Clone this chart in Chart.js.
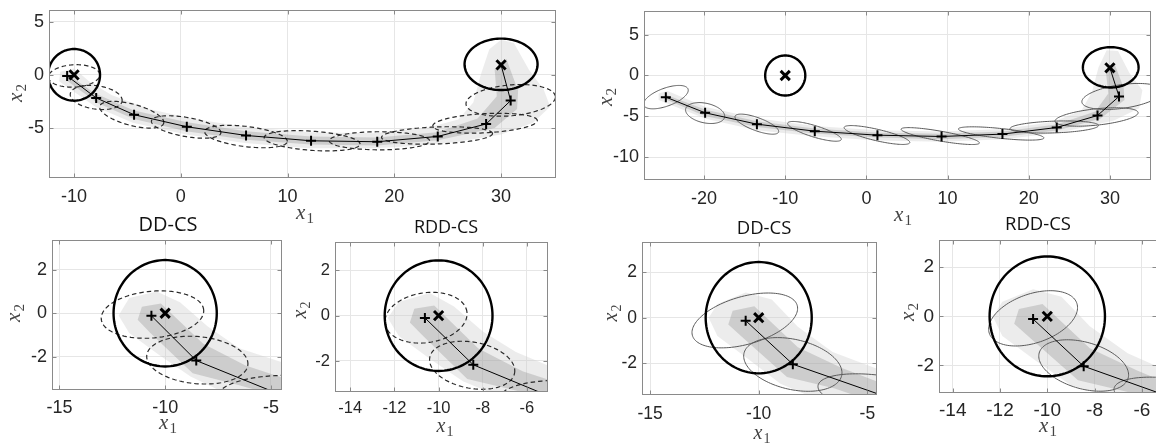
<!DOCTYPE html>
<html>
<head>
<meta charset="utf-8">
<script src="https://cdn.jsdelivr.net/npm/chart.js@4.4.1/dist/chart.umd.min.js"></script>
<style>
  html, body { margin: 0; padding: 0; background: #fff; }
  body { width: 1156px; height: 445px; overflow: hidden; position: relative; }
  canvas { position: absolute; }
</style>
</head>
<body>
<script>
// ---------- data ----------
// top-left: mean trajectory (+), targets (x), covariance ellipses, target circles
const tlMean = [[-10.65,-0.1],[-7.93,-2.17],[-4.38,-3.75],[0.56,-4.88],[6.11,-5.7],[12.2,-6.2],[18.4,-6.29],[24.07,-5.79],[28.6,-4.62],[30.9,-2.42]];
const tlTargets = [[-10,0],[30,0.94]];
// [cx, cy, semi-axis a, semi-axis b, angle deg]
const tlEllipses = [[-10,-0.1,2.4,1.05,3],[-7.93,-2.12,2.45,1.1,-8],[-4.6,-3.75,3.1,1.0,-15],[0.5,-4.9,3.3,0.9,-10],[6.1,-5.8,3.9,0.95,-7],[12.3,-6.2,4.5,0.9,-4],[18.6,-6.2,4.7,0.85,0],[24.0,-5.7,5.2,0.8,2],[28.5,-4.55,4.9,0.9,3],[30.9,-2.4,4.2,1.45,5]];
const tlCircles = [[-10,0,2.43,2.43],[30,0.99,3.42,2.42]];
const tlFanOuter = [[-11.3,0.3],[-10,0.6],[-8.6,-0.6],[-6.5,-1.9],[-3,-3.2],[1,-4.1],[6,-4.9],[12,-5.4],[18,-5.5],[23,-5.0],[26,-4.2],[27.4,-2.6],[28.1,0],[28.9,2.4],[30,3.3],[31.2,3.0],[32.6,0.5],[34,-1.4],[34.6,-3],[33,-4.5],[30,-5.6],[26,-6.3],[22,-6.7],[18,-6.9],[12,-6.9],[6,-6.4],[0.5,-5.6],[-4.5,-4.5],[-8,-3.0],[-10,-1.6],[-11.4,-0.6]];
const tlFanInner = [[-10.8,0.2],[-8.1,-1.7],[-4.4,-3.35],[0.6,-4.45],[6.1,-5.3],[12.2,-5.8],[18.4,-5.9],[24,-5.4],[27.8,-4.1],[29.6,-2.0],[29.4,0.5],[30.5,1.5],[31.6,-1.5],[31.5,-3.2],[29.4,-5.0],[24.1,-6.15],[18.4,-6.65],[12.2,-6.55],[6.1,-6.1],[0.5,-5.3],[-4.4,-4.15],[-7.8,-2.65],[-10.6,-0.6]];

// top-right
const trMean = [[-24.71,-2.65],[-19.87,-4.57],[-13.49,-5.96],[-6.36,-6.82],[1.36,-7.31],[9.26,-7.47],[16.76,-7.18],[23.45,-6.37],[28.47,-4.9],[31.12,-2.57]];
const trTargets = [[-10,0],[30,0.94]];
const trEllipses = [[-24.7,-2.65,2.9,1.1,20],[-19.87,-4.6,2.45,1.2,-12],[-13.5,-5.96,2.85,0.8,-20],[-6.4,-6.84,3.45,0.7,-17],[1.3,-7.29,4.15,0.7,-13],[9.1,-7.42,4.9,0.6,-10],[16.6,-7.1,5.3,0.6,-6],[23.15,-6.31,5.45,0.72,2],[28.35,-5.08,5.15,1.0,6],[31.5,-2.57,5.0,1.45,8]];
const trCircles = [[-10,0,2.47,2.45],[30.1,1.0,3.43,2.47]];
const trFanOuter = [[-25.6,-2.2],[-24.5,-1.9],[-19.8,-3.85],[-13.5,-5.25],[-6.4,-6.2],[1.4,-6.7],[9.3,-6.85],[16.8,-6.55],[23,-5.7],[26.5,-4.3],[27.8,-2.0],[28.6,1],[29.6,3.1],[31,3.0],[32.4,0.3],[34,-1.8],[33.6,-4.0],[30.5,-5.5],[24,-6.95],[17,-7.8],[9.3,-8.1],[1.4,-7.95],[-6.4,-7.45],[-13.5,-6.7],[-19.8,-5.3],[-24.6,-3.4],[-25.6,-3.0]];
const trFanInner = [[-24.7,-2.35],[-19.8,-4.2],[-13.5,-5.6],[-6.4,-6.5],[1.4,-7.0],[9.3,-7.15],[16.8,-6.85],[23.4,-6.0],[28.2,-4.4],[29.8,-2.2],[29.5,0.5],[30.5,1.6],[31.7,-1.5],[31.8,-3.0],[28.8,-5.3],[23.5,-6.75],[16.8,-7.5],[9.3,-7.8],[1.4,-7.6],[-6.4,-7.1],[-13.5,-6.3],[-19.9,-4.95],[-24.7,-2.95]];

// bottom zooms: DD-CS / RDD-CS, left scenario
const ddlMean = [[-10.65,-0.12],[-8.53,-2.17],[-4.38,-3.8]];
const ddlEllipses = [[-10.6,-0.06,2.43,1.07,5],[-8.48,-2.15,2.4,1.08,-5],[-4.3,-3.8,3.2,0.95,0]];
const rdlMean = [[-10.62,-0.1],[-8.43,-2.17],[-4.38,-3.8]];
const rdlEllipses = [[-10.57,-0.09,1.87,1.1,8],[-8.48,-2.19,1.95,1.02,-10],[-4.5,-3.6,2.7,0.75,0]];
const ddlFanOuter = [[-11.7,0.7],[-10.4,1.0],[-9.3,0.5],[-8,-0.6],[-6.5,-1.6],[-4.3,-2.3],[-4.3,-3.6],[-7.3,-3.6],[-8.8,-2.9],[-10.3,-1.9],[-11.7,-0.9],[-12.2,-0.1]];
const ddlFanInner = [[-11.1,0.3],[-10.2,0.45],[-8.2,-1.4],[-6.2,-2.4],[-4.3,-3.0],[-4.3,-3.9],[-6.5,-3.3],[-8.7,-2.75],[-10.7,-0.9],[-11.3,-0.3]];
const rdlFanOuter = [[-11.8,0.6],[-10.4,1.0],[-9.3,0.4],[-8,-0.7],[-6.5,-1.6],[-4.8,-2.3],[-4.8,-3.5],[-7.4,-3.5],[-8.9,-2.9],[-10.4,-1.9],[-11.8,-0.9],[-12.3,-0.1]];
const rdlFanInner = [[-11.1,0.3],[-10.2,0.45],[-8.2,-1.45],[-6.2,-2.45],[-4.8,-2.9],[-4.8,-3.8],[-6.5,-3.3],[-8.7,-2.8],[-10.7,-0.9],[-11.3,-0.3]];

// bottom zooms: DD-CS / RDD-CS, right scenario
const ddrMean = [[-10.6,-0.13],[-8.43,-2.04],[-4.4,-3.38]];
const ddrEllipses = [[-10.64,-0.12,2.5,1.05,15],[-8.43,-2.05,2.3,1.1,-12],[-4.3,-3.4,3.0,0.85,-8]];
const rdrMean = [[-10.6,-0.11],[-8.46,-2.03],[-4.4,-3.42]];
const rdrEllipses = [[-10.6,-0.08,1.95,1.0,18],[-8.46,-2.0,1.95,0.95,-15],[-4.6,-3.3,2.6,0.75,-8]];
const ddrFanOuter = [[-11.9,0.6],[-10.6,1.1],[-9.4,0.8],[-8.2,-0.4],[-6.6,-1.5],[-4.4,-2.3],[-4.4,-3.5],[-7.5,-3.5],[-9.0,-2.9],[-10.5,-1.8],[-11.9,-0.8],[-12.3,0]];
const ddrFanInner = [[-11.2,0.3],[-10.2,0.5],[-8.2,-1.3],[-6.2,-2.2],[-4.4,-2.85],[-4.4,-3.8],[-6.5,-3.1],[-8.7,-2.6],[-10.7,-0.9],[-11.4,-0.3]];
const rdrFanOuter = [[-11.9,0.6],[-10.6,1.1],[-9.4,0.8],[-8.2,-0.4],[-6.6,-1.5],[-5.2,-2.1],[-5.2,-3.2],[-7.5,-3.2],[-9.0,-2.8],[-10.5,-1.8],[-11.9,-0.8],[-12.3,0]];
const rdrFanInner = [[-11.2,0.3],[-10.2,0.5],[-8.2,-1.3],[-6.2,-2.2],[-5.2,-2.6],[-5.2,-3.5],[-6.5,-3.1],[-8.7,-2.6],[-10.7,-0.9],[-11.4,-0.3]];
const zoomTargets = [[-10,0]];
const zoomCircles = [[-10,0,2.44,2.44]];

// tick labels
const tlXTicks = [-10, 0, 10, 20, 30];
const tlYTicks = [-5, 0, 5];
const trXTicks = [-20, -10, 0, 10, 20, 30];
const trYTicks = [-10, -5, 0, 5];
const ddXTicks = [-15, -10, -5];
const rdXTicks = [-14, -12, -10, -8, -6];
const zoomYTicks = [-2, 0, 2];

// ---------- panels (layout in page pixels) ----------
const M = { l: 60, t: 40, r: 4, b: 52 };
const panels = [
  { area: [49, 10, 561, 178], x: [-12.35, 35.1], y: [-9.7, 6.1], xt: tlXTicks, yt: tlYTicks, tf: 18, tpad: 8,
    mean: tlMean, targets: tlTargets, ell: tlEllipses, circ: tlCircles, fo: tlFanOuter, fi: tlFanInner,
    dashed: true, xl: [305, 214], yl: [17, 93], ls: 21 },
  { area: [644, 11, 1155.5, 180], x: [-27.4, 35.0], y: [-12.8, 7.9], xt: trXTicks, yt: trYTicks, tf: 18, tpad: 8,
    mean: trMean, targets: trTargets, ell: trEllipses, circ: trCircles, fo: trFanOuter, fi: trFanInner,
    dashed: false, xl: [903, 216], yl: [607, 97], ls: 21 },
  { area: [52, 240, 287, 390], x: [-15.35, -4.5], y: [-3.52, 3.36], xt: ddXTicks, yt: zoomYTicks, tf: 18, tpad: 7,
    mean: ddlMean, targets: zoomTargets, ell: ddlEllipses, circ: zoomCircles, fo: ddlFanOuter, fi: ddlFanInner,
    dashed: true, title: 'DD-CS', tp: [168, 225], ts: 20, xl: [168, 424], yl: [15, 313], ls: 21 },
  { area: [335, 242, 553, 392], x: [-14.69, -5.07], y: [-3.37, 3.25], xt: rdXTicks, yt: zoomYTicks, tf: 16.5, tpad: 7,
    mean: rdlMean, targets: zoomTargets, ell: rdlEllipses, circ: zoomCircles, fo: rdlFanOuter, fi: rdlFanInner,
    dashed: true, title: 'RDD-CS', tp: [446, 228], ts: 18, xl: [445, 428], yl: [302, 310], ls: 20 },
  { area: [642, 242, 882, 395], x: [-15.37, -4.58], y: [-3.39, 3.32], xt: ddXTicks, yt: zoomYTicks, tf: 17.5, tpad: 9,
    mean: ddrMean, targets: zoomTargets, ell: ddrEllipses, circ: zoomCircles, fo: ddrFanOuter, fi: ddrFanInner,
    dashed: false, title: 'DD-CS', tp: [764, 229], ts: 18.5, xl: [762, 435], yl: [613, 313], ls: 20 },
  { area: [939, 240, 1162, 393], x: [-14.58, -5.38], y: [-3.12, 3.11], xt: rdXTicks, yt: zoomYTicks, tf: 19, tpad: 6,
    mean: rdrMean, targets: zoomTargets, ell: rdrEllipses, circ: zoomCircles, fo: rdrFanOuter, fi: rdrFanInner,
    dashed: false, title: 'RDD-CS', tp: [1038, 225], ts: 18.5, xl: [1048, 427], yl: [909, 312], ls: 21 }
];

const pts = arr => arr.map(p => ({ x: p[0], y: p[1] }));

function traceEllipse(ctx, xs, ys, cx, cy, a, b, deg) {
  const t = deg * Math.PI / 180;
  ctx.beginPath();
  for (let k = 0; k <= 120; k++) {
    const f = k / 120 * 2 * Math.PI;
    const dx = a * Math.cos(f) * Math.cos(t) - b * Math.sin(f) * Math.sin(t);
    const dy = a * Math.cos(f) * Math.sin(t) + b * Math.sin(f) * Math.cos(t);
    const px = xs.getPixelForValue(cx + dx), py = ys.getPixelForValue(cy + dy);
    if (k) ctx.lineTo(px, py); else ctx.moveTo(px, py);
  }
  ctx.closePath();
}

function subLabel(ctx, cx, cy, sub, size, rotate) {
  ctx.save();
  ctx.translate(cx, cy);
  if (rotate) ctx.rotate(-Math.PI / 2);
  const big = 'italic ' + size + 'px "Liberation Serif"';
  const small = Math.round(size * 0.7) + 'px "Liberation Serif"';
  ctx.font = big;
  const w1 = ctx.measureText('x').width;
  ctx.font = small;
  const w2 = ctx.measureText(sub).width;
  const x0 = -(w1 + w2 + 1) / 2;
  const base = size * 0.22;
  ctx.fillStyle = '#444';
  ctx.textAlign = 'left';
  ctx.textBaseline = 'alphabetic';
  ctx.font = big;
  ctx.fillText('x', x0, base);
  ctx.font = small;
  ctx.fillText(sub, x0 + w1 + 1, base + size * 0.2);
  ctx.restore();
}

const extras = {
  id: 'extras',
  afterDatasetDraw(chart, args) {
    const ds = chart.data.datasets[args.index];
    if (!ds.shapesAfter) return;
    const p = chart.options.plugins.extras.panel;
    const { ctx, chartArea: a, scales } = chart;
    ctx.save();
    ctx.beginPath();
    ctx.rect(a.left, a.top, a.right - a.left, a.bottom - a.top);
    ctx.clip();
    ctx.strokeStyle = p.dashed ? '#2a2a2a' : '#5a5a5a';
    ctx.lineWidth = p.dashed ? 1.2 : 1;
    ctx.setLineDash(p.dashed ? [4.5, 3] : []);
    p.ell.forEach(e => { traceEllipse(ctx, scales.x, scales.y, e[0], e[1], e[2], e[3], e[4]); ctx.stroke(); });
    ctx.setLineDash([]);
    ctx.strokeStyle = '#000';
    ctx.lineWidth = 2.4;
    p.circ.forEach(c => { traceEllipse(ctx, scales.x, scales.y, c[0], c[1], c[2], c[3], 0); ctx.stroke(); });
    ctx.restore();
  },
  afterDraw(chart) {
    const p = chart.options.plugins.extras.panel;
    const { ctx, chartArea: a, scales } = chart;
    ctx.save();
    ctx.strokeStyle = '#8a8a8a';
    ctx.lineWidth = 1;
    const l = Math.round(a.left) + 0.5, t = Math.round(a.top) + 0.5;
    const r = Math.round(a.right) - 0.5, b = Math.round(a.bottom) - 0.5;
    ctx.strokeRect(l, t, r - l, b - t);
    ctx.beginPath();
    p.xt.forEach(v => {
      const px = Math.round(scales.x.getPixelForValue(v)) + 0.5;
      ctx.moveTo(px, b); ctx.lineTo(px, b - 4);
      ctx.moveTo(px, t); ctx.lineTo(px, t + 4);
    });
    p.yt.forEach(v => {
      const py = Math.round(scales.y.getPixelForValue(v)) + 0.5;
      ctx.moveTo(l, py); ctx.lineTo(l + 4, py);
      ctx.moveTo(r, py); ctx.lineTo(r - 4, py);
    });
    ctx.stroke();
    const ox = p.area[0] - M.l, oy = p.area[1] - M.t;
    if (p.title) {
      ctx.fillStyle = '#111';
      ctx.font = p.ts + 'px "Open Sans"';
      ctx.textAlign = 'center';
      ctx.textBaseline = 'middle';
      ctx.fillText(p.title, p.tp[0] - ox, p.tp[1] - oy);
    }
    subLabel(ctx, p.xl[0] - ox, p.xl[1] - oy, '1', p.ls, false);
    subLabel(ctx, p.yl[0] - ox, p.yl[1] - oy, '2', p.ls, true);
    ctx.restore();
  }
};

panels.forEach(p => {
  const [L, T, R, B] = p.area;
  const cv = document.createElement('canvas');
  const w = Math.round(R - L) + M.l + M.r, h = (B - T) + M.t + M.b;
  cv.width = w; cv.height = h;
  cv.style.left = (L - M.l) + 'px';
  cv.style.top = (T - M.t) + 'px';
  cv.style.width = w + 'px';
  cv.style.height = h + 'px';
  document.body.appendChild(cv);
  const nMean = p.mean.length;
  const line = p.mean.concat([p.targets[p.targets.length - 1]]);
  if (p.targets.length === 1) line.pop();
  new Chart(cv, {
    type: 'line',
    data: {
      datasets: [
        { data: pts(line), borderColor: '#000', borderWidth: 1, tension: 0, fill: false,
          pointStyle: 'cross', pointRadius: c => (c.dataIndex < nMean ? 5 : 0),
          pointBorderColor: '#000', pointBorderWidth: 2, pointHoverRadius: 0 },
        { data: pts(p.targets), showLine: false, pointStyle: 'crossRot', pointRadius: 6.5,
          pointBorderColor: '#000', pointBorderWidth: 3, pointHoverRadius: 0 },
        { data: pts(p.fi), borderWidth: 0, pointRadius: 0, tension: 0, fill: 'shape',
          backgroundColor: 'rgba(140,140,140,0.32)', shapesAfter: true },
        { data: pts(p.fo), borderWidth: 0, pointRadius: 0, tension: 0, fill: 'shape',
          backgroundColor: 'rgba(200,200,200,0.35)' }
      ]
    },
    options: {
      responsive: false,
      animation: false,
      events: [],
      layout: { padding: { left: M.l - 40, top: M.t, right: M.r, bottom: M.b - 30 } },
      plugins: { legend: { display: false }, tooltip: { enabled: false }, extras: { panel: p } },
      scales: {
        x: {
          type: 'linear', min: p.x[0], max: p.x[1],
          afterBuildTicks: s => { s.ticks = p.xt.map(v => ({ value: v })); },
          afterFit: s => { s.height = 30; },
          grid: { color: '#e6e6e6', drawTicks: false },
          border: { display: false },
          ticks: { padding: p.tpad, color: '#262626', font: { family: '"Liberation Sans"', size: p.tf }, maxRotation: 0, autoSkip: false }
        },
        y: {
          type: 'linear', min: p.y[0], max: p.y[1],
          afterBuildTicks: s => { s.ticks = p.yt.map(v => ({ value: v })); },
          afterFit: s => { s.width = 40; },
          grid: { color: '#e6e6e6', drawTicks: false },
          border: { display: false },
          ticks: { padding: 5, color: '#262626', font: { family: '"Liberation Sans"', size: p.tf }, autoSkip: false }
        }
      }
    },
    plugins: [extras]
  });
});
</script>
</body>
</html>
